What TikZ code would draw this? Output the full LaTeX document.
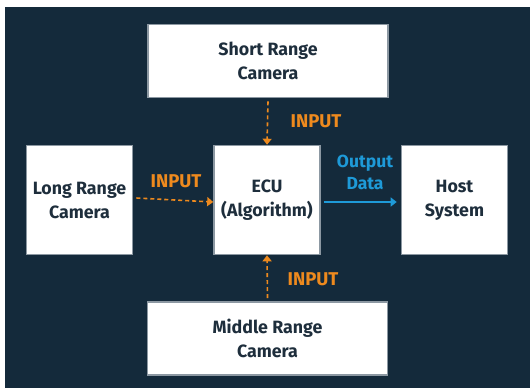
\documentclass[tikz,border=0pt]{standalone}
\usepackage{fontspec}
\setmainfont{Fira Sans}
\usetikzlibrary{arrows.meta}
\definecolor{navy}{HTML}{142A3B}
\definecolor{boxtext}{HTML}{1E2E3C}
\definecolor{inorange}{HTML}{EE8A1E}
\definecolor{outblue}{HTML}{1E9AD8}
\definecolor{boxedge}{HTML}{8C98A2}
\tikzset{
  x=1pt, y=-1pt,
  camerabox/.style={draw=boxedge, line width=1.6pt, fill=white, inner sep=0pt,
    font=\fontsize{17.8}{24}\selectfont\bfseries, text=boxtext, align=center},
  inarrow/.style={draw=inorange, line width=1.6pt, dash pattern=on 4pt off 3pt,
    -{Triangle[length=6pt,width=9pt]}},
  outarrow/.style={draw=outblue, line width=1.6pt, -{Triangle[length=6pt,width=9pt]}},
  inlabel/.style={text=inorange, font=\fontsize{18.5}{20}\selectfont\bfseries, inner sep=0pt},
  outlabel/.style={text=outblue, font=\fontsize{17.5}{22}\selectfont\bfseries, inner sep=0pt, align=center},
}
\begin{document}
\begin{tikzpicture}
\useasboundingbox (0,0) rectangle (530,388);
\fill[white] (0,0) rectangle (530,388);
\fill[navy] (5,7) rectangle (530,388);

\node[camerabox, minimum width=240pt, minimum height=73pt] (short) at (268,61) {Short Range\\Camera};
\node[camerabox, minimum width=106pt, minimum height=109pt] (long) at (79.5,200) {Long Range\\Camera};
\node[camerabox, minimum width=106pt, minimum height=109pt] (ecu) at (267,200) {ECU\\(Algorithm)};
\node[camerabox, minimum width=106pt, minimum height=109pt] (host) at (454.5,200) {Host\\System};
\node[camerabox, minimum width=240pt, minimum height=73pt] (middle) at (267.5,338.5) {Middle Range\\Camera};

\draw[inarrow] (short.south) ++(0,3) coordinate (s1) -- (ecu.north);
\draw[inarrow] (long.east) ++(3,-2) coordinate (l1) -- ([yshift=-2pt]ecu.west);
\draw[inarrow] (middle.north) ++(0,-3) coordinate (m1) -- (ecu.south);
\draw[outarrow] ([xshift=3pt,yshift=-2pt]ecu.east) -- ([xshift=-4pt,yshift=-2pt]host.west);

\node[inlabel] (lt) at (316,121) {INPUT};
\node[inlabel] (ll) at (176,181) {INPUT};
\node[inlabel] (lb) at (313,279) {INPUT};
\node[outlabel] (lo) at (365,172) {Output\\Data};
\end{tikzpicture}
\end{document}
